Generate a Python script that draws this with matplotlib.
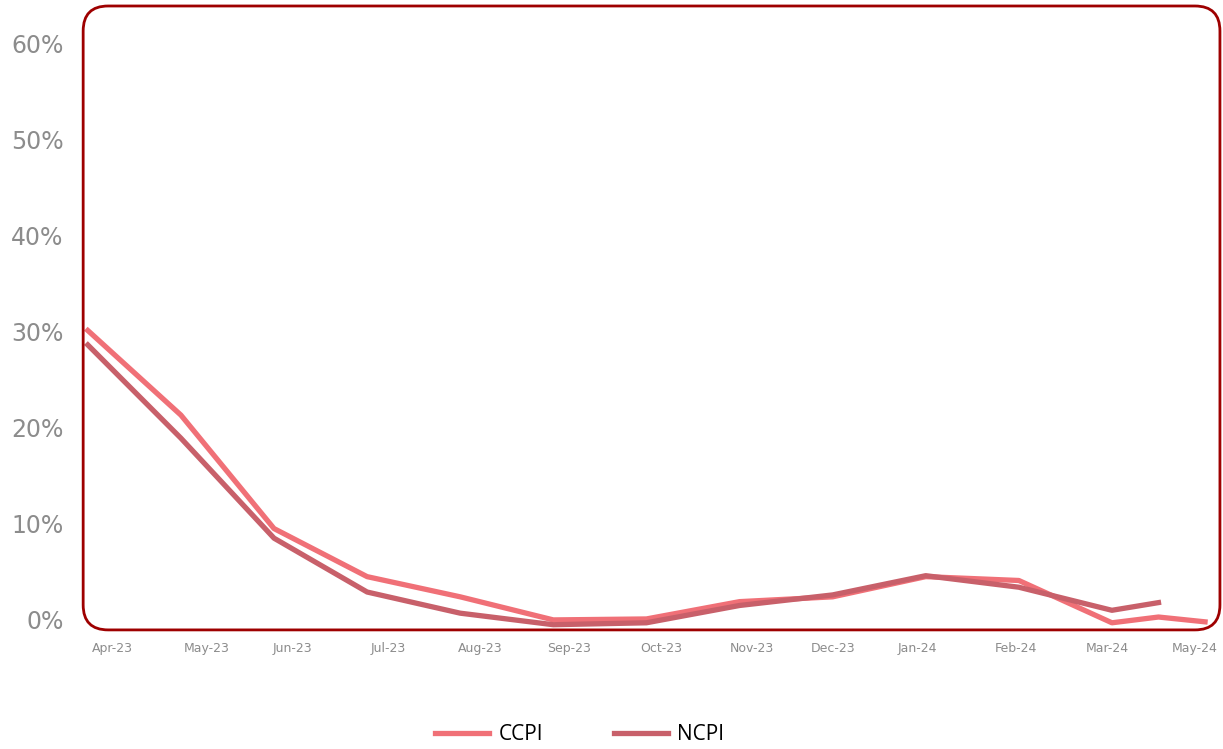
import matplotlib.pyplot as plt
from matplotlib.patches import FancyBboxPatch
from matplotlib.ticker import PercentFormatter

# data (percent), one point per month step
ccpi_x = [0, 1, 2, 3, 4, 5, 6, 7, 8, 9, 10, 11, 11.5, 12]
ccpi = [30.1, 21.3, 9.5, 4.5, 2.4, 0.0, 0.1, 1.9, 2.4, 4.5, 4.1, -0.3, 0.3, -0.2]
ncpi_x = [0, 1, 2, 3, 4, 5, 6, 7, 8, 9, 10, 11, 11.5]
ncpi = [28.6, 18.9, 8.5, 2.9, 0.7, -0.5, -0.3, 1.5, 2.6, 4.6, 3.4, 1.0, 1.8]

tick_labels = ["Apr-23", "May-23", "Jun-23", "Jul-23", "Aug-23", "Sep-23", "Oct-23",
               "Nov-23", "Dec-23", "Jan-24", "Feb-24", "Mar-24", "May-24"]
tick_pos = [0.26, 1.28, 2.2, 3.23, 4.22, 5.17, 6.16, 7.13, 8.0, 8.91, 9.97, 10.95, 11.89]

W, H = 12.23, 7.49
fig = plt.figure(figsize=(W, H), dpi=100)
ax = fig.add_axes([0.068, 0.159, 0.9295, 0.833])

ax.plot(ccpi_x, ccpi, color="#F07077", lw=3.8, label="CCPI", solid_joinstyle="round")
ax.plot(ncpi_x, ncpi, color="#C8606A", lw=3.8, label="NCPI", solid_joinstyle="round")

ax.set_xlim(-0.05, 12.16)
ax.set_ylim(-1.04, 63.85)
ax.set_yticks(range(0, 61, 10))
ax.yaxis.set_major_formatter(PercentFormatter(decimals=0))
ax.set_xticks(tick_pos)
ax.set_xticklabels(tick_labels)
ax.tick_params(axis="y", length=0, pad=14, labelsize=17, labelcolor="#8C8C8C")
ax.tick_params(axis="x", length=0, pad=9, labelsize=9, labelcolor="#8C8C8C")
for s in ax.spines.values():
    s.set_visible(False)

# rounded frame, drawn in inches so the corner radius is round
p = ax.get_position()
box = FancyBboxPatch((p.x0 * W, p.y0 * H), p.width * W, p.height * H,
                     boxstyle="round,pad=0,rounding_size=0.25",
                     transform=fig.dpi_scale_trans, fill=False, ec="#9E0000", lw=2,
                     zorder=5)
fig.patches.append(box)

fig.legend(loc="lower center", bbox_to_anchor=(0.474, -0.02), ncol=2, frameon=False,
           handlelength=2.6, columnspacing=3.4, handletextpad=0.45,
           prop={"family": "Open Sans", "size": 15})

plt.savefig("out.png", dpi=100)
